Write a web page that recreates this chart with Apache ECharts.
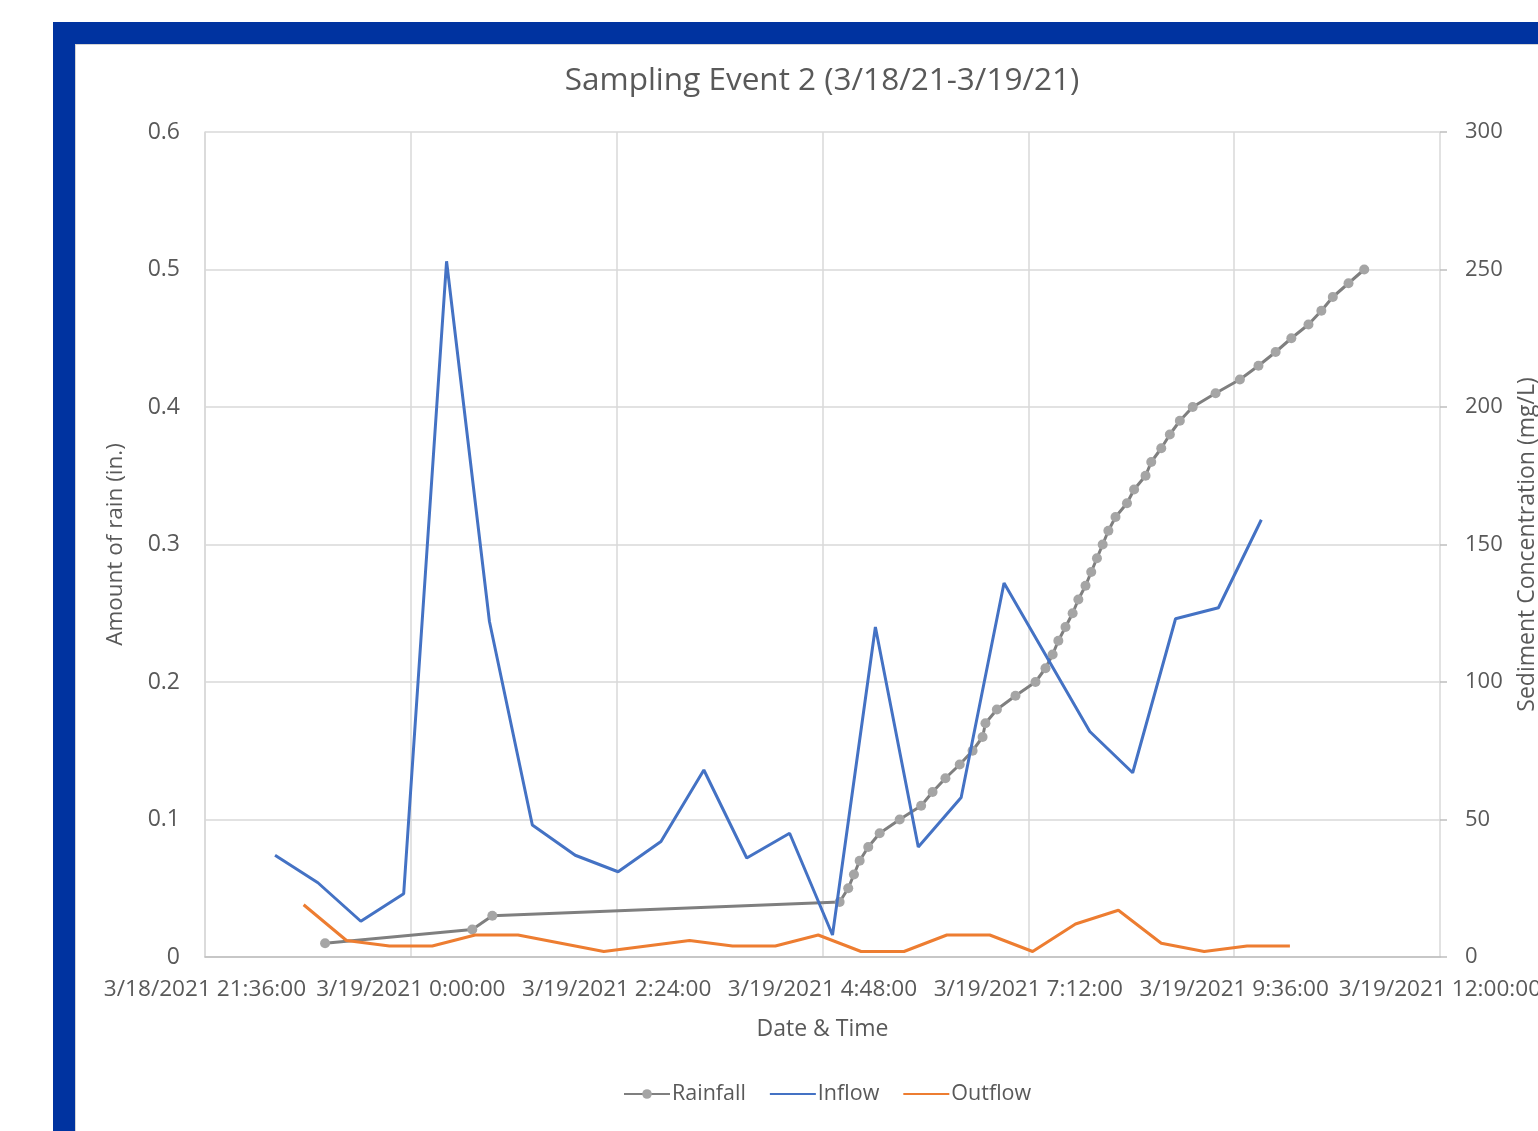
<!DOCTYPE html>
<html>
<head>
<meta charset="utf-8">
<title>Sampling Event 2</title>
<script src="https://cdn.jsdelivr.net/npm/echarts@6/dist/echarts.min.js"></script>
<style>
  html, body { margin: 0; padding: 0; background: #ffffff; overflow: hidden; width: 1538px; height: 1131px; }
  #frame { position: absolute; left: 53px; top: 22px; width: 1485px; height: 1109px; background: #0033a0; }
  #panel { position: absolute; left: 75px; top: 44px; width: 1463px; height: 1087px; background: #ffffff;
           box-shadow: inset 1px 1px 0 #d4d4d4; }
  #chart { position: absolute; left: 0; top: 0; width: 1538px; height: 1131px; }
</style>
</head>
<body>
<div id="frame"></div>
<div id="panel"></div>
<div id="chart"></div>
<script>
// Cumulative rainfall: one reading per 0.01 in. gauge tip
const rainTimes = [
  '3/18/2021 23:00', '3/19/2021 0:43', '3/19/2021 0:57', '3/19/2021 5:00', '3/19/2021 5:06',
  '3/19/2021 5:10', '3/19/2021 5:14', '3/19/2021 5:20', '3/19/2021 5:28', '3/19/2021 5:42',
  '3/19/2021 5:57', '3/19/2021 6:05', '3/19/2021 6:14', '3/19/2021 6:24', '3/19/2021 6:33',
  '3/19/2021 6:40', '3/19/2021 6:42', '3/19/2021 6:50', '3/19/2021 7:03', '3/19/2021 7:17',
  '3/19/2021 7:24', '3/19/2021 7:29', '3/19/2021 7:33', '3/19/2021 7:38', '3/19/2021 7:43',
  '3/19/2021 7:47', '3/19/2021 7:52', '3/19/2021 7:56', '3/19/2021 8:00', '3/19/2021 8:04',
  '3/19/2021 8:08', '3/19/2021 8:13', '3/19/2021 8:21', '3/19/2021 8:26', '3/19/2021 8:34',
  '3/19/2021 8:38', '3/19/2021 8:45', '3/19/2021 8:51', '3/19/2021 8:58', '3/19/2021 9:07',
  '3/19/2021 9:23', '3/19/2021 9:40', '3/19/2021 9:53', '3/19/2021 10:05', '3/19/2021 10:16',
  '3/19/2021 10:28', '3/19/2021 10:37', '3/19/2021 10:45', '3/19/2021 10:56', '3/19/2021 11:07'
];
const rainInches = [
  0.01, 0.02, 0.03, 0.04, 0.05, 0.06, 0.07, 0.08, 0.09, 0.10,
  0.11, 0.12, 0.13, 0.14, 0.15, 0.16, 0.17, 0.18, 0.19, 0.20,
  0.21, 0.22, 0.23, 0.24, 0.25, 0.26, 0.27, 0.28, 0.29, 0.30,
  0.31, 0.32, 0.33, 0.34, 0.35, 0.36, 0.37, 0.38, 0.39, 0.40,
  0.41, 0.42, 0.43, 0.44, 0.45, 0.46, 0.47, 0.48, 0.49, 0.50
];

// Inflow sediment samples (mg/L)
const inflowTimes = [
  '3/18/2021 22:25', '3/18/2021 22:55', '3/18/2021 23:25', '3/18/2021 23:55', '3/19/2021 0:25',
  '3/19/2021 0:55', '3/19/2021 1:25', '3/19/2021 1:55', '3/19/2021 2:25', '3/19/2021 2:55',
  '3/19/2021 3:25', '3/19/2021 3:55', '3/19/2021 4:25', '3/19/2021 4:55', '3/19/2021 5:25',
  '3/19/2021 5:55', '3/19/2021 6:25', '3/19/2021 6:55', '3/19/2021 7:55', '3/19/2021 8:25',
  '3/19/2021 8:55', '3/19/2021 9:25', '3/19/2021 9:55'
];
const inflowMgL = [
  37, 27, 13, 23, 253, 122, 48, 37, 31, 42,
  68, 36, 45, 8, 120, 40, 58, 136, 82, 67,
  123, 127, 159
];

// Outflow sediment samples (mg/L)
const outflowTimes = [
  '3/18/2021 22:45', '3/18/2021 23:15', '3/18/2021 23:45', '3/19/2021 0:15', '3/19/2021 0:45',
  '3/19/2021 1:15', '3/19/2021 1:45', '3/19/2021 2:15', '3/19/2021 2:45', '3/19/2021 3:15',
  '3/19/2021 3:45', '3/19/2021 4:15', '3/19/2021 4:45', '3/19/2021 5:15', '3/19/2021 5:45',
  '3/19/2021 6:15', '3/19/2021 6:45', '3/19/2021 7:15', '3/19/2021 7:45', '3/19/2021 8:15',
  '3/19/2021 8:45', '3/19/2021 9:15', '3/19/2021 9:45', '3/19/2021 10:15'
];
const outflowMgL = [
  19, 6, 4, 4, 8, 8, 5, 2, 4, 6,
  4, 4, 8, 2, 2, 8, 8, 2, 12, 17,
  5, 2, 4, 4
];

// Axis ranges
const axisStart = '3/18/2021 21:36';
const axisEnd = '3/19/2021 12:00';
const tickStepMinutes = 144;
const rainTicks = ['0', '0.1', '0.2', '0.3', '0.4', '0.5', '0.6'];

// Timestamps are handled in UTC so the tick grid lines up with whole days
function toMs(s) {
  const [d, t] = s.split(' ');
  const [mo, da, yr] = d.split('/').map(Number);
  const [hh, mm] = t.split(':').map(Number);
  return Date.UTC(yr, mo - 1, da, hh, mm);
}
function fmtTick(v) {
  const d = new Date(v);
  const mm = String(d.getUTCMinutes()).padStart(2, '0');
  return (d.getUTCMonth() + 1) + '/' + d.getUTCDate() + '/' + d.getUTCFullYear() + ' ' +
         d.getUTCHours() + ':' + mm + ':00';
}
const pairs = (times, vals) => times.map((t, i) => [toMs(t), vals[i]]);

const FONT = '"Open Sans", "Liberation Sans", sans-serif';
const TXT = '#595959';

const el = document.getElementById('chart');
const chart = echarts.init(el, null, { renderer: 'canvas', width: 1538, height: 1131 });
chart.setOption({
  backgroundColor: 'transparent',
  animation: false,
  textStyle: { fontFamily: FONT },
  title: {
    text: 'Sampling Event 2 (3/18/21-3/19/21)',
    left: 817, top: 60, textAlign: 'center',
    textStyle: { fontFamily: FONT, fontSize: 31.5, fontWeight: 'normal', color: TXT }
  },
  legend: {
    data: [
      { name: 'Rainfall' },
      { name: 'Inflow', itemStyle: { opacity: 0 } },
      { name: 'Outflow', itemStyle: { opacity: 0 } }
    ],
    left: 618, top: 1078,
    itemWidth: 46, itemHeight: 12, itemGap: 23,
    textStyle: { fontFamily: FONT, fontSize: 21.5, color: TXT, padding: [0, 0, 0, -3] }
  },
  grid: { left: 205, right: 98, top: 132, bottom: 174, containLabel: false, outerBoundsMode: 'none' },
  xAxis: {
    type: 'value',
    min: toMs(axisStart), max: toMs(axisEnd),
    interval: tickStepMinutes * 60000,
    name: 'Date & Time', nameLocation: 'middle', nameGap: 61,
    nameTextStyle: { fontFamily: FONT, fontSize: 23, color: TXT },
    axisLine: { show: true, lineStyle: { color: '#bfbfbf', width: 1.5 } },
    axisTick: { show: false },
    axisLabel: { formatter: fmtTick, fontFamily: FONT, fontSize: 22.6, color: TXT, margin: 21,
                 interval: 0, hideOverlap: false, showMinLabel: true, showMaxLabel: true },
    splitLine: { show: true, lineStyle: { color: '#d9d9d9', width: 1.5 } }
  },
  yAxis: [
    {
      type: 'value', min: 0, max: 0.6, interval: 0.1,
      name: 'Amount of rain (in.)', nameLocation: 'middle', nameGap: 78, nameRotate: 90,
      nameTextStyle: { fontFamily: FONT, fontSize: 22.5, color: TXT },
      axisLine: { show: true, lineStyle: { color: '#d9d9d9', width: 1.5 } },
      axisTick: { show: false },
      axisLabel: { fontFamily: FONT, fontSize: 23, color: TXT, margin: 25,
                   formatter: (v, i) => rainTicks[i] },
      splitLine: { show: true, lineStyle: { color: '#d9d9d9', width: 1.5 } }
    },
    {
      type: 'value', min: 0, max: 300, interval: 50, position: 'right',
      name: 'Sediment Concentration (mg/L)', nameLocation: 'middle', nameGap: 76, nameRotate: 90,
      nameTextStyle: { fontFamily: FONT, fontSize: 23, color: TXT },
      axisLine: { show: false },
      axisTick: { show: true, length: 7, lineStyle: { color: '#bfbfbf', width: 1.5 } },
      axisLabel: { fontFamily: FONT, fontSize: 22, color: TXT, margin: 25 },
      splitLine: { show: false }
    }
  ],
  series: [
    {
      name: 'Rainfall', type: 'line', yAxisIndex: 0,
      data: pairs(rainTimes, rainInches),
      symbol: 'circle', symbolSize: 10, showAllSymbol: true,
      lineStyle: { color: '#7f7f7f', width: 3 },
      itemStyle: { color: '#a5a5a5' },
      z: 2
    },
    {
      name: 'Inflow', type: 'line', yAxisIndex: 1,
      data: pairs(inflowTimes, inflowMgL),
      symbol: 'none',
      lineStyle: { color: '#4472c4', width: 3 },
      itemStyle: { color: '#4472c4' },
      z: 3
    },
    {
      name: 'Outflow', type: 'line', yAxisIndex: 1,
      data: pairs(outflowTimes, outflowMgL),
      symbol: 'none',
      lineStyle: { color: '#ed7d31', width: 3 },
      itemStyle: { color: '#ed7d31' },
      z: 4
    }
  ]
});
</script>
</body>
</html>
